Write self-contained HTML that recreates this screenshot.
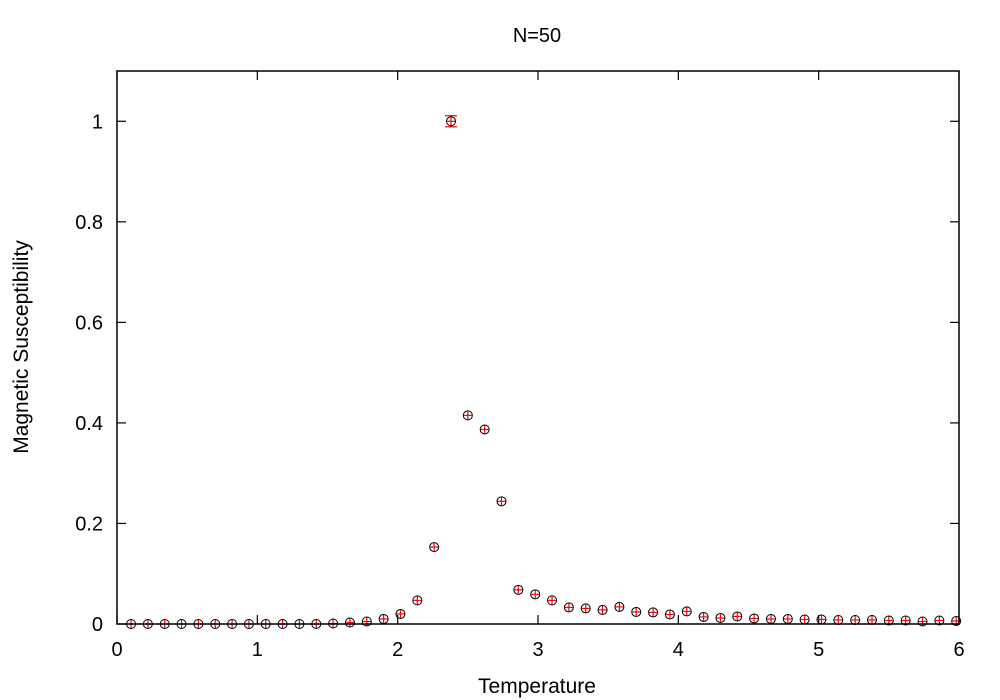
<!DOCTYPE html>
<html><head><meta charset="utf-8"><style>
body{margin:0;background:#fff;}
svg{display:block;font-family:"Liberation Sans",sans-serif;}
</style></head><body>
<svg id="chart" width="1000" height="700" viewBox="0 0 1000 700">
<rect x="0" y="0" width="1000" height="700" fill="#fff"/>
<text x="537" y="42" font-size="20" text-anchor="middle">N=50</text>
<text x="537" y="693" font-size="21" text-anchor="middle">Temperature</text>
<text transform="translate(28,347) rotate(-90)" font-size="21" text-anchor="middle">Magnetic Susceptibility</text>
<g id="axes"></g>
<g id="marks"></g>
<rect x="117" y="71" width="842" height="553" fill="none" stroke="#000" stroke-width="1.5"/>
</svg>
<script>
const xTicks = [0,1,2,3,4,5,6];
const yTicks = [0,0.2,0.4,0.6,0.8,1];
const yTickLabels = ["0","0.2","0.4","0.6","0.8","1"];
const temps = [0.1,0.22,0.34,0.46,0.58,0.7,0.82,0.94,1.06,1.18,1.3,1.42,1.54,1.66,1.78,1.9,2.02,2.14,2.26,2.38,2.5,2.62,2.74,2.86,2.98,3.1,3.22,3.34,3.46,3.58,3.7,3.82,3.94,4.06,4.18,4.3,4.42,4.54,4.66,4.78,4.9,5.02,5.14,5.26,5.38,5.5,5.62,5.74,5.86,5.98];
const chi = [0,0,0,0,0,0,0,0,0,0,0,0,0.001,0.003,0.005,0.01,0.02,0.047,0.153,1.0,0.415,0.387,0.244,0.068,0.059,0.047,0.033,0.031,0.028,0.034,0.024,0.023,0.019,0.025,0.014,0.012,0.015,0.011,0.01,0.01,0.009,0.009,0.008,0.008,0.008,0.007,0.007,0.005,0.007,0.006];
const chiErr = [0,0,0,0,0,0,0,0,0,0,0,0,0.001,0.001,0.001,0.002,0.003,0.003,0.004,0.011,0.005,0.006,0.004,0.003,0.002,0.002,0.002,0.002,0.002,0.002,0.002,0.002,0.002,0.002,0.002,0.002,0.002,0.002,0.002,0.002,0.002,0.002,0.002,0.002,0.002,0.002,0.002,0.002,0.002,0.002];

const X0=117,X1=959,Y0=624,Y1=71,XMAX=6,YMAX=1.1;
function sx(v){return X0+(X1-X0)*v/XMAX;}
function sy(v){return Y0-(Y0-Y1)*v/YMAX;}
const NS="http://www.w3.org/2000/svg";
function mk(tag,attrs,parent){const e=document.createElementNS(NS,tag);for(const k in attrs)e.setAttribute(k,attrs[k]);parent.appendChild(e);return e;}
const axes=document.getElementById('axes'), marks=document.getElementById('marks');
xTicks.forEach(t=>{
  const x=sx(t);
  const l1=mk('line',{x1:x,x2:x,y1:Y0,y2:Y0-9,stroke:'#000','stroke-width':1.2},axes);
  
  
  const l2=mk('line',{x1:x,x2:x,y1:Y1,y2:Y1+9,stroke:'#000','stroke-width':1.2},axes);
  
  
  const tx=mk('text',{x:x,y:Y0+32,'font-size':20,'text-anchor':'middle'},axes);
  tx.textContent=String(t);
  
  
});
yTicks.forEach((t,i)=>{
  const y=sy(t);
  const l1=mk('line',{x1:X0,x2:X0+9,y1:y,y2:y,stroke:'#000','stroke-width':1.2},axes);
  
  
  const l2=mk('line',{x1:X1,x2:X1-9,y1:y,y2:y,stroke:'#000','stroke-width':1.2},axes);
  
  
  const tx=mk('text',{x:X0-14,y:y+7,'font-size':20,'text-anchor':'end'},axes);
  tx.textContent=yTickLabels[i];
  
  
});
temps.forEach((t,i)=>{
  const x=sx(t), y=sy(chi[i]), yl=sy(chi[i]-chiErr[i]), yh=sy(chi[i]+chiErr[i]);
  const g=mk('g',{},marks);
  
  
  mk('line',{x1:x,x2:x,y1:Math.min(yh,y-4),y2:Math.max(yl,y+4),stroke:'#f00','stroke-width':1.2},g);
  mk('line',{x1:x-4,x2:x+4,y1:y,y2:y,stroke:'#f00','stroke-width':1.2},g);
  if (yl-yh>8){
    mk('line',{x1:x-6,x2:x+6,y1:yh,y2:yh,stroke:'#f00','stroke-width':1.2},g);
    mk('line',{x1:x-6,x2:x+6,y1:yl,y2:yl,stroke:'#f00','stroke-width':1.2},g);
  }
  mk('circle',{cx:x,cy:y,r:4.5,fill:'none',stroke:'#000','stroke-width':1},g);
});
</script>
</body></html>
